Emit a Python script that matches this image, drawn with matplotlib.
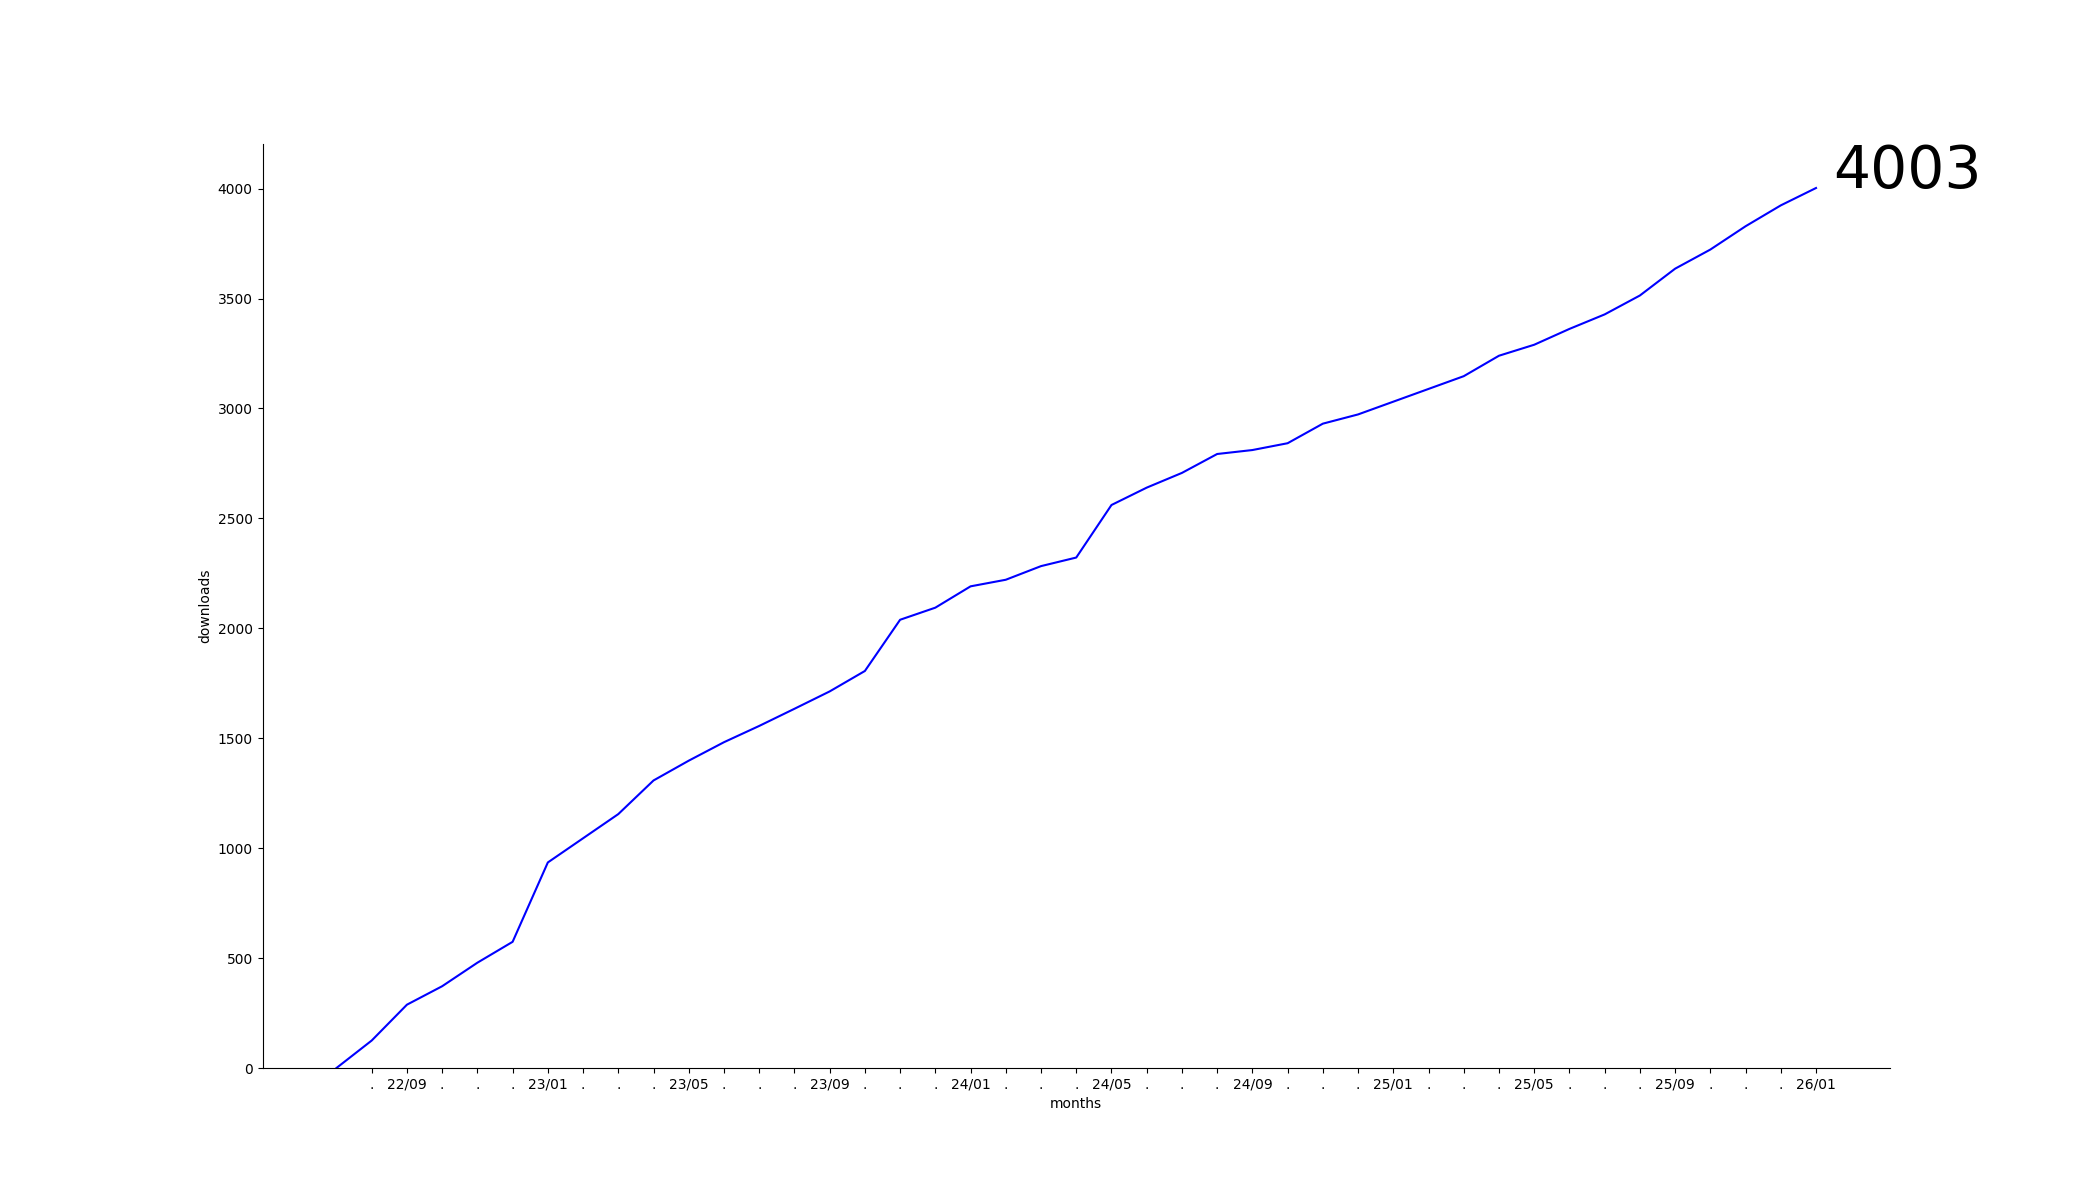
import matplotlib
matplotlib.use("Agg")
import matplotlib.pyplot as plt

# cumulative downloads, one point per month from 22/07 to 26/01
months = ["22/07", "22/08", "22/09", "22/10", "22/11", "22/12",
          "23/01", "23/02", "23/03", "23/04", "23/05", "23/06",
          "23/07", "23/08", "23/09", "23/10", "23/11", "23/12",
          "24/01", "24/02", "24/03", "24/04", "24/05", "24/06",
          "24/07", "24/08", "24/09", "24/10", "24/11", "24/12",
          "25/01", "25/02", "25/03", "25/04", "25/05", "25/06",
          "25/07", "25/08", "25/09", "25/10", "25/11", "25/12",
          "26/01"]
downloads = [0, 125, 288, 372, 479, 574,
             935, 1045, 1155, 1308, 1398, 1482,
             1556, 1634, 1713, 1806, 2039, 2094,
             2191, 2221, 2283, 2322, 2561, 2640,
             2707, 2793, 2811, 2842, 2931, 2973,
             3031, 3089, 3147, 3240, 3290, 3362,
             3428, 3514, 3636, 3723, 3829, 3924,
             4003]

# every 4th month gets a label, the rest a dot
tick_labels = [".", "22/09", ".", ".", ".", "23/01", ".", ".", ".", "23/05",
               ".", ".", ".", "23/09", ".", ".", ".", "24/01", ".", ".",
               ".", "24/05", ".", ".", ".", "24/09", ".", ".", ".", "25/01",
               ".", ".", ".", "25/05", ".", ".", ".", "25/09", ".", ".",
               ".", "26/01"]

fig, ax = plt.subplots(figsize=(21, 12), dpi=100)
x = list(range(len(months)))
ax.plot(x, downloads, color="blue")

ax.set_ylim(bottom=0)
ax.set_xticks(x[1:])
ax.set_xticklabels(tick_labels)
ax.set_xlabel("months")
ax.set_ylabel("downloads")
ax.spines["top"].set_visible(False)
ax.spines["right"].set_visible(False)

ax.text(x[-1] + 0.5, downloads[-1], str(downloads[-1]), fontsize=42)

fig.savefig("out.png", dpi=100)
